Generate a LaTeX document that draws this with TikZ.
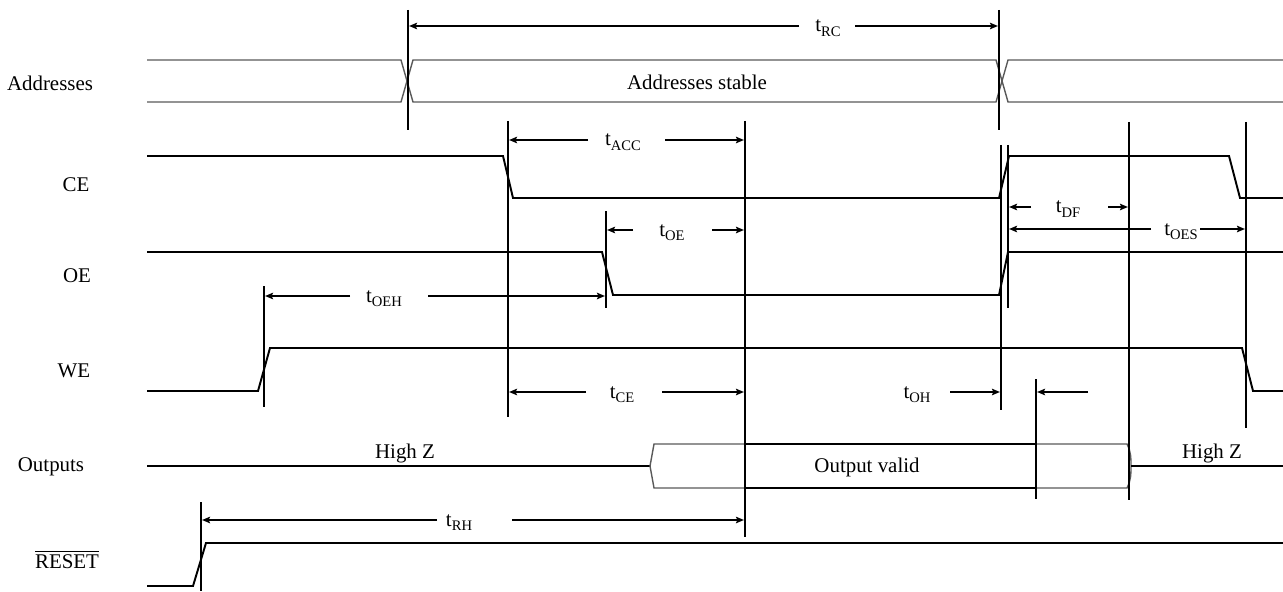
\documentclass[tikz,border=0pt]{standalone}
\usepackage{fontspec}
\setmainfont{Liberation Serif}
\usetikzlibrary{arrows.meta}
\newcommand{\tsub}[1]{t\raisebox{-2.8pt}{\fontsize{8.3}{9}\selectfont #1}}
\newcommand{\drawarrow}{\draw[-{Stealth[length=1.6mm,width=1.3mm,inset=0.3mm]}, line width=1.1pt, shorten >=0.6pt]}
\newcommand{\marker}[4]{% name, x, top, bottom
    \coordinate (#1) at (#2,#3);
    \draw[line width=1.1pt] (#1) -- (#2,#4);
}

\begin{document}
\begin{tikzpicture}[x=0.02cm, y=-0.02cm, font=\fontsize{11.9}{14}\selectfont,
        sig/.style={line width=1.1pt, line join=miter},
        bus/.style={line width=0.8pt, black!65},
        lbl/.style={anchor=base, inner sep=0pt}]
    \useasboundingbox (0,0) rectangle (1283,591);

    % Signal names
    \node[lbl] (nAddr) at (50,91) {Addresses};
    \node[lbl] (nCE) at (76,192) {CE};
    \node[lbl] (nOE) at (77,282) {OE};
    \node[lbl] (nWE) at (74,377) {WE};
    \node[lbl] (nOut) at (51,471) {Outputs};
    \node[lbl] (nReset) at (67,568) {$\overline{\mbox{RESET}}$};

    % Draw waveforms
    \draw[bus] (147,60) -- (401,60) -- (413,102) -- (996,102) -- (1008,60) -- (1283,60);
    \draw[bus] (147,102) -- (401,102) -- (413,60) -- (996,60) -- (1008,102) -- (1283,102);
    \draw[sig] (147,156) -- (503,156) -- (513,198) -- (999,198) -- (1009,156) -- (1229,156) -- (1240,198) -- (1283,198);
    \draw[sig] (147,252) -- (602,252) -- (613,295) -- (999,295) -- (1008,252) -- (1283,252);
    \draw[sig] (147,391) -- (258,391) -- (270,348) -- (1242,348) -- (1253,391) -- (1283,391);
    \draw[sig] (147,466) -- (650,466);
    \draw[bus] (745,444) -- (654,444) -- (650,466) -- (654,488) -- (745,488);
    \draw[sig] (745,444) -- (1036,444);
    \draw[sig] (745,488) -- (1036,488);
    \draw[bus] (1036,444) -- (1127,444) .. controls (1131,452) and (1131,458) .. (1131,466)
        .. controls (1131,474) and (1131,480) .. (1127,488) -- (1036,488);
    \draw[sig] (1131,466) -- (1283,466);
    \draw[sig] (147,586) -- (193,586) -- (206,543) -- (1283,543);

    % Bus and state texts
    \node[lbl] (tStable) at (697,90) {Addresses stable};
    \node[lbl] (tHiZa) at (405,458) {High Z};
    \node[lbl] (tValid) at (867,472) {Output valid};
    \node[lbl] (tHiZb) at (1212,458) {High Z};

    % Draw edge markers
    \marker{mA}{408}{10}{130}
    \marker{mB}{999}{10}{130}
    \marker{mC}{508}{121}{417}
    \marker{mD}{745}{121}{537}
    \marker{mE}{606}{211}{308}
    \marker{mF}{264}{286}{407}
    \marker{mG}{1001}{145}{410}
    \marker{mH}{1008}{145}{308}
    \marker{mI}{1129}{122}{500}
    \marker{mJ}{1246}{122}{428}
    \marker{mK}{1036}{379}{499}
    \marker{mL}{201}{502}{591}

    % Draw timing parameters
    \node[lbl] (tRC) at (828,32) {\tsub{RC}};
    \coordinate (rc1) at (799,26);
    \coordinate (rc2) at (855,26);
    \drawarrow (rc1) -- (mA |- rc1);
    \drawarrow (rc2) -- (mB |- rc2);

    \node[lbl] (tACC) at (623,146) {\tsub{ACC}};
    \coordinate (acc1) at (588,140);
    \coordinate (acc2) at (665,140);
    \drawarrow (acc1) -- (mC |- acc1);
    \drawarrow (acc2) -- (mD |- acc2);

    \node[lbl] (tOE) at (672,236) {\tsub{OE}};
    \coordinate (oe1) at (633,230);
    \coordinate (oe2) at (712,230);
    \drawarrow (oe1) -- (mE |- oe1);
    \drawarrow (oe2) -- (mD |- oe2);

    \node[lbl] (tOEH) at (384,302) {\tsub{OEH}};
    \coordinate (oeh1) at (350,296);
    \coordinate (oeh2) at (428,296);
    \drawarrow (oeh1) -- (mF |- oeh1);
    \drawarrow (oeh2) -- (mE |- oeh2);

    \node[lbl] (tCE) at (622,398) {\tsub{CE}};
    \coordinate (ce1) at (586,392);
    \coordinate (ce2) at (662,392);
    \drawarrow (ce1) -- (mC |- ce1);
    \drawarrow (ce2) -- (mD |- ce2);

    \node[lbl] (tOH) at (917,398) {\tsub{OH}};
    \coordinate (oh1) at (950,392);
    \coordinate (oh2) at (1088,392);
    \drawarrow (oh1) -- (mG |- oh1);
    \drawarrow (oh2) -- (mK |- oh2);

    \node[lbl] (tDF) at (1068,213) {\tsub{DF}};
    \coordinate (df1) at (1031,207);
    \coordinate (df2) at (1108,207);
    \drawarrow (df1) -- (mH |- df1);
    \drawarrow (df2) -- (mI |- df2);

    \node[lbl] (tOES) at (1181,235) {\tsub{OES}};
    \coordinate (oes1) at (1151,229);
    \coordinate (oes2) at (1200,229);
    \drawarrow (oes1) -- (mH |- oes1);
    \drawarrow (oes2) -- (mJ |- oes2);

    \node[lbl] (tRH) at (459,526) {\tsub{RH}};
    \coordinate (rh1) at (437,520);
    \coordinate (rh2) at (512,520);
    \drawarrow (rh1) -- (mL |- rh1);
    \drawarrow (rh2) -- (mD |- rh2);
\end{tikzpicture}
\end{document}
